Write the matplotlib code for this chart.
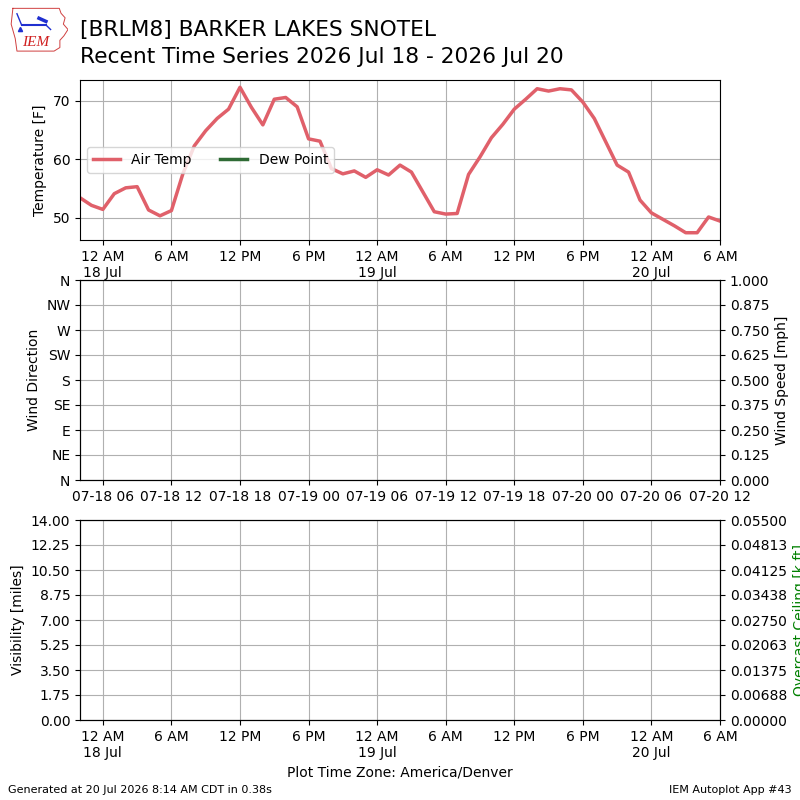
import datetime
import matplotlib
matplotlib.use("Agg")
import matplotlib.pyplot as plt
import matplotlib.dates as mdates
from matplotlib.ticker import FixedLocator, FixedFormatter, FormatStrFormatter
import numpy as np

# ---------------- data ----------------
start_time = datetime.datetime(2026, 7, 17, 22, 0)
air_temp = [
    53.4, 52.1,
    51.4, 54.1, 55.1, 55.3, 51.3, 50.3, 51.2, 57.5, 62.3, 64.9, 67.0, 68.6,
    72.35, 68.9, 65.9, 70.3, 70.6, 69.0, 63.5, 63.1, 58.4, 57.5, 58.0, 56.9,
    58.2, 57.3, 59.0, 57.8, 54.4, 51.0, 50.6, 50.7, 57.4, 60.4, 63.7, 66.0,
    68.6, 70.3, 72.1, 71.7, 72.1, 71.9, 69.8, 67.0, 63.0, 59.0, 57.8, 53.0,
    50.8, 49.7, 48.6, 47.4, 47.4, 50.1, 49.4,
]
times = [start_time + datetime.timedelta(hours=i) for i in range(len(air_temp))]
dew_point = []
dew_times = []

wind_dir_ticks = [0, 45, 90, 135, 180, 225, 270, 315, 360]
wind_dir_labels = ["N", "NE", "E", "SE", "S", "SW", "W", "NW", "N"]
wind_speed_ticks = [0, 0.125, 0.25, 0.375, 0.5, 0.625, 0.75, 0.875, 1.0]
vis_ticks = [0, 1.75, 3.5, 5.25, 7.0, 8.75, 10.5, 12.25, 14.0]
ceiling_ticks = list(np.linspace(0, 0.055, 9))

tick_times = [datetime.datetime(2026, 7, 18, 0) + datetime.timedelta(hours=6 * i) for i in range(10)]
utc_offset = datetime.timedelta(hours=6)

title1 = "[BRLM8] BARKER LAKES SNOTEL"
title2 = "Recent Time Series 2026 Jul 18 - 2026 Jul 20"


def local_label(t):
    h = t.hour % 12
    if h == 0:
        h = 12
    ampm = "AM" if t.hour < 12 else "PM"
    s = f"{h} {ampm}"
    if t.hour == 0:
        s += "\n" + t.strftime("%d %b")
    return s


local_labels = [local_label(t) for t in tick_times]
utc_labels = [(t + utc_offset).strftime("%m-%d %H") for t in tick_times]

# ---------------- figure ----------------
fig = plt.figure(figsize=(8, 8), dpi=100)
xmin = mdates.date2num(start_time)
xmax = mdates.date2num(datetime.datetime(2026, 7, 20, 6))
tick_nums = [mdates.date2num(t) for t in tick_times]

grid_kw = dict(color="#b0b0b0", linewidth=0.8)

# top panel
ax1 = fig.add_axes([0.1, 0.7, 0.8, 0.2])
ax1.plot(times, air_temp, color="#e0606a", lw=2.5, label="Air Temp")
ax1.plot(dew_times, dew_point, color="#2f6b35", lw=2.5, label="Dew Point")
ax1.set_xlim(xmin, xmax)
ax1.xaxis.set_major_locator(FixedLocator(tick_nums))
ax1.xaxis.set_major_formatter(FixedFormatter(local_labels))
ax1.set_ylabel("Temperature [F]")
ax1.grid(True, **grid_kw)
ax1.legend(loc="center left", ncol=2)

# middle panel
ax2 = fig.add_axes([0.1, 0.4, 0.8, 0.25])
ax2.set_xlim(xmin, xmax)
ax2.set_ylim(0, 360)
ax2.set_yticks(wind_dir_ticks)
ax2.set_yticklabels(wind_dir_labels)
ax2.xaxis.set_major_locator(FixedLocator(tick_nums))
ax2.xaxis.set_major_formatter(FixedFormatter(utc_labels))
ax2.set_ylabel("Wind Direction")
ax2.grid(True, **grid_kw)
ax2b = ax2.twinx()
ax2b.set_ylim(0, 1)
ax2b.set_yticks(wind_speed_ticks)
ax2b.yaxis.set_major_formatter(FormatStrFormatter("%.3f"))
ax2b.set_ylabel("Wind Speed [mph]")

# bottom panel
ax3 = fig.add_axes([0.1, 0.1, 0.8, 0.25])
ax3.set_xlim(xmin, xmax)
ax3.set_ylim(0, 14)
ax3.set_yticks(vis_ticks)
ax3.yaxis.set_major_formatter(FormatStrFormatter("%.2f"))
ax3.xaxis.set_major_locator(FixedLocator(tick_nums))
ax3.xaxis.set_major_formatter(FixedFormatter(local_labels))
ax3.set_ylabel("Visibility [miles]")
ax3.set_xlabel("Plot Time Zone: America/Denver")
ax3.grid(True, **grid_kw)
ax3b = ax3.twinx()
ax3b.set_ylim(0, 0.055)
ax3b.set_yticks(ceiling_ticks)
ax3b.yaxis.set_major_formatter(FormatStrFormatter("%.5f"))
ax3b.set_ylabel("Overcast Ceiling [k ft]", color="green")

# titles and footers
fig.text(0.1, 0.9625, title1, fontsize=15.7, va="center", ha="left")
fig.text(0.1, 0.929, title2, fontsize=15.7, va="center", ha="left")
fig.text(0.01, 0.0125, "Generated at 20 Jul 2026 8:14 AM CDT in 0.38s", fontsize=8, va="center")
fig.text(0.99, 0.0125, "IEM Autoplot App #43", fontsize=8, va="center", ha="right")

# simple logo
lax = fig.add_axes([10 / 800, 1 - 52 / 800, 58 / 800, 45 / 800])
lax.set_xlim(0, 1)
lax.set_ylim(0, 1)
lax.axis("off")
ox = [0.05, 0.85, 0.88, 0.95, 0.92, 1.0, 0.93, 0.86, 0.86, 0.76, 0.12, 0.09, 0.02, 0.05]
oy = [0.97, 0.97, 0.86, 0.76, 0.62, 0.50, 0.36, 0.26, 0.10, 0.02, 0.02, 0.30, 0.62, 0.97]
lax.plot(ox, oy, color="#d04040", lw=0.7)
lax.plot([0.2, 0.62], [0.6, 0.6], color="#1f2fd0", lw=1.5)
lax.plot([0.12, 0.2], [0.85, 0.6], color="#1f2fd0", lw=1.0)
lax.plot([0.5, 0.62], [0.75, 0.68], color="#1f2fd0", lw=2.5)
lax.plot([0.62, 0.7], [0.6, 0.5], color="#1f2fd0", lw=1.0)
lax.plot([0.17], [0.5], marker="^", color="#1f2fd0", ms=3)
lax.text(0.45, 0.22, "IEM", color="#d02020", fontsize=11, style="italic",
         family="Liberation Serif", ha="center", va="center")

fig.savefig("out.png", dpi=100)
